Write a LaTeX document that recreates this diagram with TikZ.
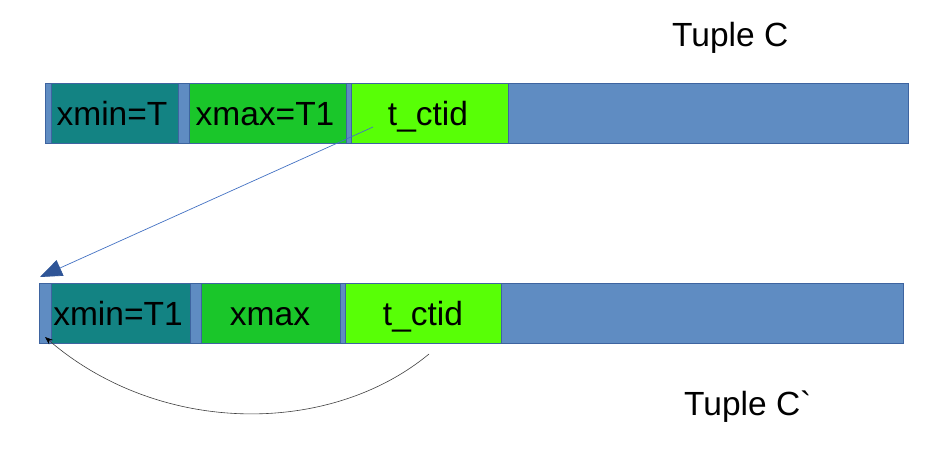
\documentclass[tikz,border=0pt]{standalone}
\usepackage{fontspec}
\setmainfont{Liberation Sans}
\newfontfamily\rawfont{Liberation Sans}
\usetikzlibrary{arrows.meta}
\definecolor{barblue}{RGB}{95,140,194}
\definecolor{bardark}{RGB}{62,100,160}
\definecolor{cteal}{RGB}{19,131,131}
\definecolor{cgreen}{RGB}{26,198,42}
\definecolor{clime}{RGB}{88,255,6}
\definecolor{linkblue}{RGB}{68,114,196}
\definecolor{tipblue}{RGB}{47,85,151}
\tikzset{
  x=1pt, y=-1pt,
  bar/.style={draw=bardark, fill=barblue, line width=0.8pt, anchor=north west, minimum height=60pt, inner sep=0pt},
  cell/.style={draw=bardark, line width=0.6pt, anchor=north west, minimum height=60pt, inner sep=0pt},
  lbl/.style={font=\fontsize{33.5}{33.5}\selectfont, anchor=base, inner sep=0pt},
}
\begin{document}
\begin{tikzpicture}
\useasboundingbox[fill=white] (0,0) rectangle (950,469);
% top tuple
\node[bar, minimum width=863pt] (barA) at (45,83) {};
\node[cell, fill=cteal, minimum width=127.5pt] (a1) at (50.5,83) {};
\node[cell, fill=cgreen, minimum width=157pt] (a2) at (189,83) {};
\node[cell, fill=clime, minimum width=157pt] (a3) at (351,83) {};
\node[lbl] (ta1) at (112,125) {xmin=T};
\node[lbl] (ta2) at (265,125) {xmax=T1};
\node[lbl] (ta3) at (428,125) {t\_ctid};
% bottom tuple
\node[bar, minimum width=864pt] (barB) at (39,283) {};
\node[cell, fill=cteal, minimum width=139pt] (b1) at (51,283) {};
\node[cell, fill=cgreen, minimum width=139pt] (b2) at (201,283) {};
\node[cell, fill=clime, minimum width=156pt] (b3) at (345,283) {};
\node[lbl] (tb1) at (118,325) {xmin=T1};
\node[lbl] (tb2) at (270,325) {xmax};
\node[lbl] (tb3) at (423,325) {t\_ctid};
% titles
\node[lbl, anchor=base west] (tC) at (672,46.5) {Tuple C};
\node[lbl, anchor=base west] (tC2) at (684,415) {Tuple C{\rawfont\symbol{96}}};
% connectors
\coordinate (s1) at (373,127);
\coordinate (e1) at (40,277);
\draw[linkblue, line width=0.7pt, -{Triangle[length=22pt, width=17pt, color=tipblue, fill=tipblue]}] (s1) -- (e1);
\coordinate (s2) at (429,354);
\coordinate (e2) at (45,337);
\draw[black!75, line width=0.6pt, -{Stealth[length=8pt, width=6pt, color=black]}] (s2) .. controls (330,436) and (160,436) .. (e2);
\end{tikzpicture}
\end{document}
